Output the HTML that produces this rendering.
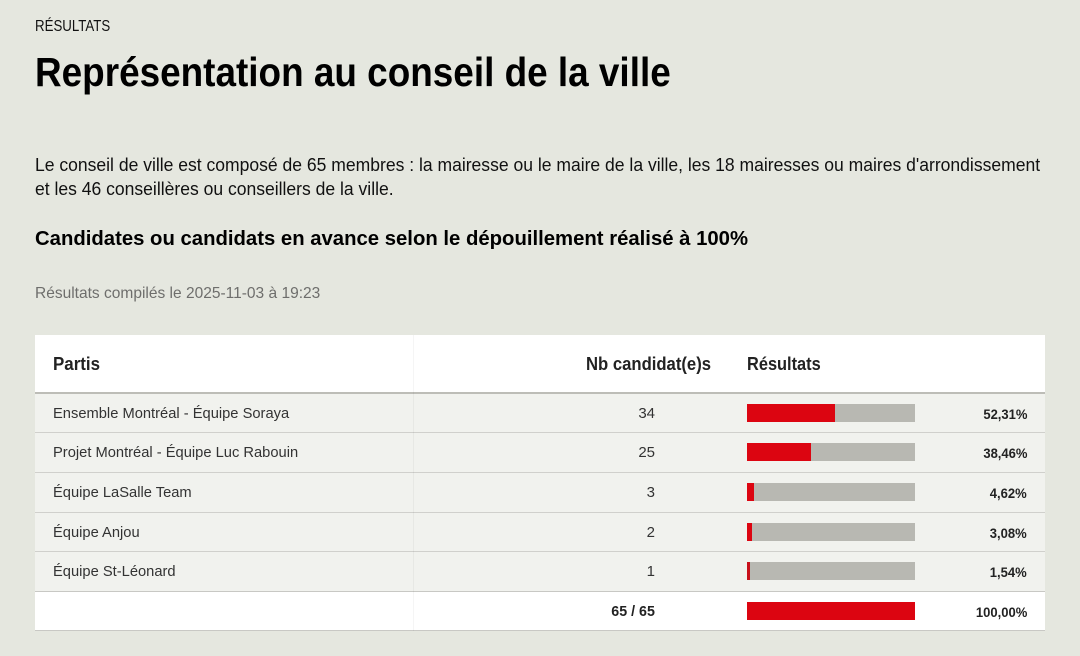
<!DOCTYPE html>
<html><head><meta charset="utf-8">
<style>
html,body{margin:0;padding:0}
body{width:1080px;height:656px;background:#e5e7df;position:relative;overflow:hidden;font-family:"Liberation Sans",Arial,sans-serif;}
.t{position:absolute;white-space:nowrap;line-height:1;transform-origin:0 0;}
.r{transform-origin:100% 0;text-align:right;}
.b{font-weight:bold}
.box{position:absolute;}
</style></head><body>

<div class="t" style="left:35px;top:18.5px;font-size:16px;color:#111;transform:scaleX(0.83)">RÉSULTATS</div>
<div class="t b" style="left:35px;top:52.3px;font-size:41px;color:#000;transform:scaleX(0.9)">Représentation au conseil de la ville</div>

<div class="t" style="left:35px;top:156.3px;font-size:18px;color:#111;transform:scaleX(0.974)">Le conseil de ville est composé de 65 membres : la mairesse ou le maire de la ville, les 18 mairesses ou maires d'arrondissement</div>
<div class="t" style="left:35px;top:179.8px;font-size:18px;color:#111;transform:scaleX(0.974)">et les 46 conseillères ou conseillers de la ville.</div>

<div class="t b" style="left:35px;top:229.1px;font-size:20px;color:#000;transform:scaleX(1.015)">Candidates ou candidats en avance selon le dépouillement réalisé à 100%</div>

<div class="t" style="left:35px;top:285.5px;font-size:16px;color:#6e6e6c;transform:scaleX(0.97)">Résultats compilés le 2025-11-03 à 19:23</div>

<!-- table -->
<div class="box" style="left:35px;top:335px;width:1010px;height:57px;background:#fff"></div>
<div class="box" style="left:35px;top:392px;width:1010px;height:2px;background:#bdbdb7"></div>
<div class="box" style="left:35px;top:394px;width:1010px;height:198px;background:#f1f2ee"></div>
<div class="box" style="left:35px;top:432px;width:1010px;height:1px;background:#d0d0cc"></div>
<div class="box" style="left:35px;top:472px;width:1010px;height:1px;background:#d0d0cc"></div>
<div class="box" style="left:35px;top:512px;width:1010px;height:1px;background:#d0d0cc"></div>
<div class="box" style="left:35px;top:551px;width:1010px;height:1px;background:#d0d0cc"></div>
<div class="box" style="left:35px;top:591px;width:1010px;height:1px;background:#c8c8c4"></div>
<div class="box" style="left:35px;top:592px;width:1010px;height:38px;background:#fff"></div>
<div class="box" style="left:35px;top:630px;width:1010px;height:1px;background:#c8c8c4"></div>
<div class="box" style="left:413px;top:335px;width:1px;height:296px;background:rgba(0,0,0,0.04)"></div>

<!-- header -->
<div class="t b" style="left:53px;top:354.8px;font-size:18px;color:#222;transform:scaleX(0.94)">Partis</div>
<div class="t b r" style="right:369px;top:354.8px;font-size:18px;color:#222;transform:scaleX(0.926)">Nb candidat(e)s</div>
<div class="t b" style="left:747px;top:354.8px;font-size:18px;color:#222;transform:scaleX(0.91)">Résultats</div>

<!-- row 1 -->
<div class="t" style="left:53px;top:406.3px;font-size:15px;color:#333;transform:scaleX(0.98)">Ensemble Montréal - Équipe Soraya</div>
<div class="t r" style="right:425px;top:406.3px;font-size:15px;color:#333">34</div>
<div class="box" style="left:746.5px;top:404px;width:168.5px;height:18px;background:#b8b8b2"></div>
<div class="box" style="left:746.5px;top:404px;width:88.1px;height:18px;background:#dc0511"></div>
<div class="t b r" style="right:53px;top:407.2px;font-size:14px;color:#222;transform:scaleX(0.93)">52,31%</div>

<!-- row 2 -->
<div class="t" style="left:53px;top:445.3px;font-size:15px;color:#333;transform:scaleX(0.98)">Projet Montréal - Équipe Luc Rabouin</div>
<div class="t r" style="right:425px;top:445.3px;font-size:15px;color:#333">25</div>
<div class="box" style="left:746.5px;top:443px;width:168.5px;height:18px;background:#b8b8b2"></div>
<div class="box" style="left:746.5px;top:443px;width:64.8px;height:18px;background:#dc0511"></div>
<div class="t b r" style="right:53px;top:446.2px;font-size:14px;color:#222;transform:scaleX(0.93)">38,46%</div>

<!-- row 3 -->
<div class="t" style="left:53px;top:485.3px;font-size:15px;color:#333;transform:scaleX(0.98)">Équipe LaSalle Team</div>
<div class="t r" style="right:425px;top:485.3px;font-size:15px;color:#333">3</div>
<div class="box" style="left:746.5px;top:483px;width:168.5px;height:18px;background:#b8b8b2"></div>
<div class="box" style="left:746.5px;top:483px;width:7.8px;height:18px;background:#dc0511"></div>
<div class="t b r" style="right:53px;top:486.2px;font-size:14px;color:#222;transform:scaleX(0.93)">4,62%</div>

<!-- row 4 -->
<div class="t" style="left:53px;top:525.3px;font-size:15px;color:#333;transform:scaleX(0.98)">Équipe Anjou</div>
<div class="t r" style="right:425px;top:525.3px;font-size:15px;color:#333">2</div>
<div class="box" style="left:746.5px;top:523px;width:168.5px;height:18px;background:#b8b8b2"></div>
<div class="box" style="left:746.5px;top:523px;width:5.2px;height:18px;background:#dc0511"></div>
<div class="t b r" style="right:53px;top:526.2px;font-size:14px;color:#222;transform:scaleX(0.93)">3,08%</div>

<!-- row 5 -->
<div class="t" style="left:53px;top:564.3px;font-size:15px;color:#333;transform:scaleX(0.98)">Équipe St-Léonard</div>
<div class="t r" style="right:425px;top:564.3px;font-size:15px;color:#333">1</div>
<div class="box" style="left:746.5px;top:562px;width:168.5px;height:18px;background:#b8b8b2"></div>
<div class="box" style="left:746.5px;top:562px;width:3px;height:18px;background:#c8101a"></div>
<div class="t b r" style="right:53px;top:565.2px;font-size:14px;color:#222;transform:scaleX(0.93)">1,54%</div>

<!-- total -->
<div class="t b r" style="right:425px;top:604.3px;font-size:15px;color:#222;transform:scaleX(0.95)">65 / 65</div>
<div class="box" style="left:746.5px;top:602px;width:168.5px;height:18px;background:#dc0511"></div>
<div class="t b r" style="right:53px;top:605.2px;font-size:14px;color:#222;transform:scaleX(0.93)">100,00%</div>

</body></html>
